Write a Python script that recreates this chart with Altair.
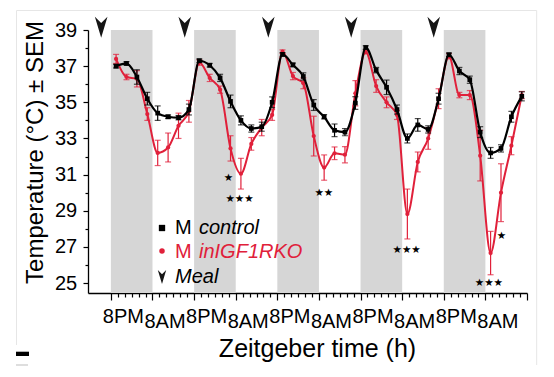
import altair as alt
import pandas as pd

# ---------------- data ----------------
time_h = [13.5, 16.5, 19.5, 22.5, 25.5, 28.5, 31.5, 34.5,
          37.5, 40.5, 43.5, 46.5, 49.5, 52.5, 55.5, 58.5,
          61.5, 64.5, 67.5, 70.5, 73.5, 76.5, 79.5, 82.5,
          85.5, 88.5, 91.5, 94.5, 97.5, 100.5, 103.5, 106.5,
          109.5, 112.5, 115.5, 118.5, 121.5, 124.5, 127.5, 130.5]

control = [37.0, 37.15, 36.4, 35.2, 34.4, 34.2, 34.15, 34.6,
           37.3, 37.05, 36.35, 35.05, 34.0, 33.55, 33.65, 35.0,
           37.65, 37.07, 36.43, 34.85, 34.2, 33.45, 33.35, 34.96,
           38.03, 36.78, 35.83, 34.6, 33.0, 33.75, 33.5, 35.2,
           37.63, 36.73, 36.25, 33.35, 32.2, 32.45, 34.2, 35.33]
control_sem = [0.1, 0.1, 0.4, 0.35, 0.4, 0.1, 0.12, 0.3,
               0.1, 0.1, 0.2, 0.35, 0.25, 0.2, 0.25, 0.3,
               0.1, 0.1, 0.2, 0.3, 0.12, 0.35, 0.2, 0.35,
               0.1, 0.15, 0.4, 0.25, 0.25, 0.35, 0.2, 0.3,
               0.1, 0.2, 0.2, 0.3, 0.3, 0.2, 0.3, 0.25]

ko = [37.4, 36.4, 36.3, 34.35, 32.2, 32.5, 33.7, 34.5,
      37.2, 36.35, 35.7, 32.45, 31.05, 32.7, 33.6, 34.3,
      37.8, 36.45, 36.05, 33.13, 31.39, 32.18, 32.1, 35.5,
      37.78, 35.9, 35.0, 34.3, 28.82, 31.7, 33.0, 35.2,
      37.55, 35.4, 35.4, 32.05, 26.66, 30.0, 32.6, 35.4]
ko_sem = [0.25, 0.15, 0.45, 0.35, 0.7, 0.8, 0.7, 0.6,
          0.15, 0.2, 0.2, 0.7, 0.85, 0.35, 0.45, 0.3,
          0.1, 0.2, 0.3, 1.1, 0.7, 0.35, 0.45, 0.7,
          0.1, 0.35, 0.3, 0.25, 1.38, 0.55, 0.6, 0.55,
          0.15, 0.15, 0.25, 1.4, 1.2, 1.6, 0.5, 0.2]

dark_start = [12, 36, 60, 84, 108]
dark_end = [24, 48, 72, 96, 120]

meal_t = [9.2, 33.3, 57.4, 81.3, 105.1]
meal_y = [39.15, 39.15, 39.15, 39.15, 39.15]

star_t = [45.9, 49.1, 73.4, 97.3, 121.0, 124.6]
star_y = [30.8, 29.65, 30.0, 26.85, 25.0, 27.6]
star_txt = ["★", "★★★", "★★", "★★★", "★★★", "★"]

x_minor_ticks = [12, 14, 16, 18, 20, 22, 24, 26, 28, 30, 32, 34, 36, 38, 40, 42,
                 44, 46, 48, 50, 52, 54, 56, 58, 60, 62, 64, 66, 68, 70, 72, 74,
                 76, 78, 80, 82, 84, 86, 88, 90, 92, 94, 96, 98, 100, 102, 104,
                 106, 108, 110, 112, 114, 116, 118, 120, 122, 124, 126, 128, 130, 132]
x_label_values = [12, 24, 36, 48, 60, 72, 84, 96, 108, 120]
x_labels = ["8PM", "8AM", "8PM", "8AM", "8PM", "8AM", "8PM", "8AM", "8PM", "8AM"]
y_ticks = [25, 26, 27, 28, 29, 30, 31, 32, 33, 34, 35, 36, 37, 38, 39]

# ---------------- styling ----------------
FONT = "Liberation Sans"
RED = "#e0203a"
GRAY = "#d6d6d6"
W, H = 439, 263

xscale = alt.Scale(domain=[5.4, 132], nice=False, zero=False)
yscale = alt.Scale(domain=[24.45, 39], nice=False, zero=False)

label_expr = " : ".join(f"datum.value == {v} ? '{l}'" for v, l in zip(x_label_values, x_labels)) + " : ''"

xaxis = alt.Axis(
    values=x_minor_ticks, labelExpr=label_expr, labelOverlap=False, labelFlush=False,
    labelFont=FONT, labelFontSize=20, labelColor="black", labelOffset=12,
    tickColor="black", domainColor="black", tickWidth=1.2, domainWidth=1.3,
    tickSize={"condition": {"test": "datum.value % 12 == 0", "value": 7}, "value": 4},
    labelPadding={"condition": {"test": "datum.value % 24 == 0", "value": 11.2}, "value": 6.2},
    grid=False,
    title="Zeitgeber time (h)", titleFont=FONT, titleFontSize=25, titleFontWeight="normal",
    titleColor="black", titleX=229, titleY=63.7, titleBaseline="alphabetic", titleAlign="center",
)
yaxis = alt.Axis(
    values=y_ticks, labelExpr="datum.value % 2 == 1 ? datum.value : ''", labelOverlap=False,
    labelFont=FONT, labelFontSize=20, labelColor="black",
    tickColor="black", domainColor="black", tickWidth=1.2, domainWidth=1.3,
    tickSize={"condition": {"test": "datum.value % 2 == 1", "value": 5}, "value": 3},
    labelPadding={"condition": {"test": "datum.value % 2 == 1", "value": 6.3}, "value": 8.3},
    grid=False,
    title="Temperature (°C) ± SEM", titleFont=FONT, titleFontSize=24, titleFontWeight="normal",
    titleColor="black", titleX=-46, titleY=122, titleBaseline="alphabetic", titleAlign="center",
)


def X(field):
    return alt.X(field, type="quantitative", scale=xscale, axis=xaxis)


def Y(field):
    return alt.Y(field, type="quantitative", scale=yscale, axis=yaxis)


series = pd.DataFrame({"t": time_h, "control": control, "control_sem": control_sem,
                       "ko": ko, "ko_sem": ko_sem})
series["c_lo"] = series["control"] - series["control_sem"]
series["c_hi"] = series["control"] + series["control_sem"]
series["k_lo"] = series["ko"] - series["ko_sem"]
series["k_hi"] = series["ko"] + series["ko_sem"]

bands = pd.DataFrame({"s": dark_start, "e": dark_end, "top": [39] * 5, "bot": [24.45] * 5})
meals = pd.DataFrame({"t": meal_t, "y": meal_y})
stars = pd.DataFrame({"t": star_t, "y": star_y, "txt": star_txt})
one = pd.DataFrame({"a": [0]})

base = alt.Chart(series)

band_layer = alt.Chart(bands).mark_rect(color=GRAY).encode(
    x=X("s"), x2="e", y=Y("top"), y2="bot")

red_line = base.mark_line(interpolate="monotone", color=RED, strokeWidth=2).encode(x=X("t"), y=Y("ko"))
red_err = base.mark_errorbar(ticks=True, size=6, thickness=1.2, color=RED).encode(
    x=X("t"), y=Y("k_lo"), y2="k_hi")
red_pts = base.mark_point(shape="circle", filled=True, size=18, color=RED, opacity=1).encode(
    x=X("t"), y=Y("ko"))

blk_line = base.mark_line(interpolate="monotone", color="black", strokeWidth=2.2).encode(
    x=X("t"), y=Y("control"))
blk_err = base.mark_errorbar(ticks=True, size=6, thickness=1.2, color="black").encode(
    x=X("t"), y=Y("c_lo"), y2="c_hi")
blk_pts = base.mark_point(shape="square", filled=True, size=22, color="black", opacity=1).encode(
    x=X("t"), y=Y("control"))

star_layer = alt.Chart(stars).mark_text(font="DejaVu Sans", fontSize=10.5, baseline="middle",
                                        align="center", color="black").encode(
    x=X("t"), y=Y("y"), text="txt:N")

ARROW = "M0,1L-0.6,-1L0,-0.4L0.6,-1Z"
meal_layer = alt.Chart(meals).mark_point(shape=ARROW, filled=True, size=441, color="#151515",
                                         opacity=1).encode(x=X("t"), y=Y("y"))

# ---------------- hand-made legend ----------------
leg = alt.Chart(one)
leg_sq = leg.mark_point(shape="square", filled=True, size=40, color="black", opacity=1).encode(
    x=alt.value(74), y=alt.value(198))
leg_ci = leg.mark_point(shape="circle", filled=True, size=30, color=RED, opacity=1).encode(
    x=alt.value(74), y=alt.value(221))
leg_ar = leg.mark_point(shape=ARROW, filled=True, size=196, color="#151515", opacity=1).encode(
    x=alt.value(74), y=alt.value(247))
txt_kw = dict(font=FONT, fontSize=20, align="left", baseline="alphabetic")
leg_m1 = leg.mark_text(text="M", color="black", **txt_kw).encode(x=alt.value(87), y=alt.value(204.3))
leg_c1 = leg.mark_text(text="control", color="black", fontStyle="italic", **txt_kw).encode(
    x=alt.value(111), y=alt.value(204.3))
leg_m2 = leg.mark_text(text="M", color=RED, **txt_kw).encode(x=alt.value(87), y=alt.value(228.3))
leg_c2 = leg.mark_text(text="inIGF1RKO", color=RED, fontStyle="italic", **txt_kw).encode(
    x=alt.value(111), y=alt.value(228.3))
leg_c3 = leg.mark_text(text="Meal", color="black", fontStyle="italic", **txt_kw).encode(
    x=alt.value(87), y=alt.value(253.3))

# ---------------- faint figure frame / crop artefacts ----------------
fr_top = leg.mark_rule(color="#e6e6e6", strokeWidth=1).encode(
    x=alt.value(-71.5), x2=alt.value(448.7), y=alt.value(-19.5))
fr_left = leg.mark_rule(color="#e6e6e6", strokeWidth=1).encode(
    x=alt.value(-71.5), y=alt.value(-19.5), y2=alt.value(315))
fr_right = leg.mark_rule(color="#e6e6e6", strokeWidth=1).encode(
    x=alt.value(448.7), y=alt.value(-19.5), y2=alt.value(335))
dash = leg.mark_rect(color="black").encode(
    x=alt.value(-72), x2=alt.value(-59), y=alt.value(321.7), y2=alt.value(326))
dash2 = leg.mark_rule(color="#bdbdbd", strokeWidth=1).encode(
    x=alt.value(-72), x2=alt.value(-60), y=alt.value(335))

chart = alt.layer(
    band_layer, red_line, red_err, red_pts, blk_line, blk_err, blk_pts,
    star_layer, meal_layer,
    leg_sq, leg_ci, leg_ar, leg_m1, leg_c1, leg_m2, leg_c2, leg_c3,
    fr_top, fr_left, fr_right, dash, dash2,
).properties(
    width=W, height=H,
    autosize=alt.AutoSizeParams(type="none"),
    padding={"left": 80, "top": 22, "right": 19, "bottom": 76},
).configure_view(stroke=None)

chart.save("out.html", embed_options={"renderer": "svg", "actions": False})
